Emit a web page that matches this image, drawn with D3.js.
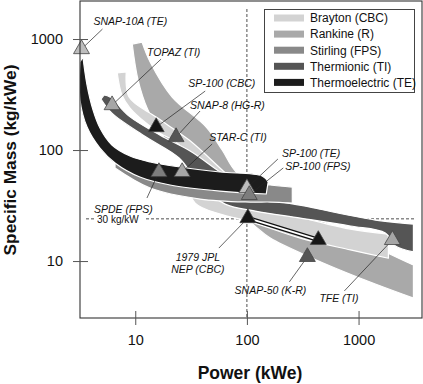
<!DOCTYPE html>
<html>
<head>
<meta charset="utf-8">
<script src="https://cdn.jsdelivr.net/npm/d3@7"></script>
<style>
  html, body { margin: 0; padding: 0; background: #fff; }
  svg { display: block; font-family: "Liberation Sans", Arial, Helvetica, sans-serif; }
</style>
</head>
<body>
<svg id="chart" width="423" height="384"></svg>
<script>
// Bandas de massa específica por tipo de conversão: [potência kWe, kg/kWe]
const rankineUpper = [[11.5, 939], [13.6, 621], [21.4, 300], [43.2, 161], [60, 100], [80.2, 63.4], [179, 35.5], [370, 26], [1038, 15.5], [3100, 9.2]];
const rankineLower = [[9.4, 901], [10.6, 427], [13, 229], [18.5, 125], [28, 81.3], [52, 43.6], [87, 27.6], [121, 20.2], [162, 16.1], [385, 10.6], [1038, 7.0], [3100, 4.64]];

const braytonUpper = [[8.3, 505], [8.8, 300], [15.4, 198], [30.4, 123], [60, 66.1], [131, 32], [301, 24.9], [845, 19.4], [1850, 17.5]];
const braytonLower = [[6.9, 494], [7.6, 313], [8.98, 239], [12.5, 175], [16.7, 142], [25.2, 108.6], [28.5, 53.7], [34.4, 33.3], [57.6, 26.5], [103, 22.9], [301, 16.1], [845, 12.6], [1850, 10.6]];

const thermionicUpper = [[5.25, 313], [5.94, 300], [8.8, 202], [16.7, 136], [31, 98], [57.6, 63.4], [119, 39.4], [370, 30.6], [1413, 23.4], [3100, 21.5]];
const thermionicLower = [[4.93, 288], [6.18, 215], [12.5, 131], [24.7, 84.7], [38.1, 48.4], [63.9, 32.6], [119, 28.2], [301, 24.4], [845, 20.7], [1738, 17.9], [2138, 13.7], [3100, 12.1]];

const stirlingUpper = [[6.59, 81.3], [13.6, 66.1], [38.1, 58.3], [107, 51.5], [162, 48.4], [255, 46.4]];
const stirlingLower = [[6.59, 68.9], [13.6, 45.5], [38.1, 36.2], [107, 34], [162, 34], [255, 33.3]];

const teUpper = [[3.4, 689], [3.7, 385], [4.19, 229], [4.83, 158], [6.18, 111], [8.98, 88.3], [13.6, 78], [25.2, 70.3], [57.6, 63.4], [137, 58.3], [155, 51.5]];
const teLower = [[3.2, 621], [3.2, 282], [3.7, 161], [4.83, 104], [6.59, 76.4], [11, 57.1], [20.5, 48.4], [57.6, 42.7], [149, 40.2]];

// Sistemas (triângulos)
const sysNames = ['SNAP-10A (TE)', 'TOPAZ (TI)', 'SP-100 (CBC)', 'SNAP-8 (HG-R)', 'STAR-C (TI)', 'SPDE (FPS)',
  'SP-100 (TE)', 'SP-100 (FPS)', '1979 JPL\nNEP (CBC)', '', 'SNAP-50 (K-R)', 'TFE (TI)'];
const sysPower = [3.3, 6.2, 15.4, 23.2, 26.3, 16.3, 100, 105, 102, 436, 348, 2009];
const sysMass = [812, 254, 161, 131, 63.4, 63.4, 45.5, 39.4, 24.4, 15.5, 10.9, 15.5];
const sysType = ['TE', 'TI', 'CBC', 'R', 'TI', 'FPS', 'TE', 'FPS', 'CBC', 'CBC', 'R', 'TI'];

// Legenda
const typeKeys = ['CBC', 'R', 'FPS', 'TI', 'TE'];
const typeNames = ['Brayton (CBC)', 'Rankine (R)', 'Stirling (FPS)', 'Thermionic (TI)', 'Thermoelectric (TE)'];

const xTicks = [10, 100, 1000];
const yTicks = [10, 100, 1000];
const refPower = 100;
const refMass = 24;
const refLabel = '30 kg/kW';

// estilos
const bandColor = { CBC: '#d3d3d3', R: '#a9a9a9', FPS: '#898989', TI: '#555555', TE: '#1c1c1c' };
const triColor = { CBC: '#161616', R: '#555555', FPS: '#7d7d7d', TI: '#a6a6a6', TE: '#bdbdbd' };
// deslocamentos dos rótulos (px): texto e ponta da linha guia
const labelPos = [
  { tx: 12, ty: -24, lx: 21, ly: -20, a: 'start' },
  { tx: 35, ty: -49, lx: 49, ly: -46, a: 'start' },
  { tx: 32, ty: -40, lx: 49, ly: -36, a: 'start' },
  { tx: 14, ty: -28, lx: 24, ly: -26, a: 'start' },
  { tx: 27, ty: -31, lx: 30, ly: -28, a: 'start' },
  { tx: -65, ty: 41, lx: -12, ly: 26, a: 'start' },
  { tx: 35, ty: -31, lx: 31, ly: -29, a: 'start' },
  { tx: 36, ty: -25, lx: 34, ly: -27, a: 'start' },
  { tx: -50, ty: 43, lx: -29, ly: 30, a: 'middle' },
  null,
  { tx: -1, ty: 37, lx: -18, ly: 25, a: 'end' },
  { tx: -73, ty: 62, lx: -48, ly: 51, a: 'start' }
];

const L = 80, R = 422, T = 1, B = 318;
const x = d3.scaleLog().domain([3.2, 3700]).range([L, R]);
const y = d3.scaleLog().domain([3.07, 2200]).range([B, T]);

const svg = d3.select('#chart');

svg.append('defs').append('clipPath').attr('id', 'plot')
  .append('rect').attr('x', L).attr('y', T).attr('width', R - L).attr('height', B - T);

// linhas de referência tracejadas
svg.append('line')
  .attr('x1', x(refPower)).attr('x2', x(refPower)).attr('y1', 9).attr('y2', B)
  .attr('stroke', '#222').attr('stroke-width', 0.8).attr('stroke-dasharray', '3,2');
svg.append('line')
  .attr('x1', 86).attr('x2', 415).attr('y1', y(refMass)).attr('y2', y(refMass))
  .attr('stroke', '#222').attr('stroke-width', 0.8).attr('stroke-dasharray', '3,2');
svg.append('rect').attr('x', 95).attr('y', y(refMass) - 6).attr('width', 49).attr('height', 12).attr('fill', '#fff');
svg.append('text').attr('x', 97).attr('y', y(refMass) + 4)
  .attr('font-size', 10).attr('fill', '#111').text(refLabel);

// bandas
const line = d3.line().x(d => x(d[0])).y(d => y(d[1])).curve(d3.curveCatmullRom.alpha(0.5));
function bandPath(up, lo) {
  const a = line(up);
  const b = line(lo.slice().reverse());
  return a + 'L' + b.slice(1) + 'Z';
}
const bands = [
  ['R', rankineUpper, rankineLower],
  ['CBC', braytonUpper, braytonLower],
  ['TI', thermionicUpper, thermionicLower],
  ['FPS', stirlingUpper, stirlingLower],
  ['TE', teUpper, teLower]
];
svg.append('g').attr('clip-path', 'url(#plot)')
  .selectAll('path')
  .data(bands)
  .enter()
  .append('path')
  .attr('d', d => bandPath(d[1], d[2]))
  .attr('fill', d => bandColor[d[0]])
  .attr('stroke', '#fff')
  .attr('stroke-width', 1.2)
  .attr('stroke-linejoin', 'round');

// sistemas
const sys = sysNames.map((n, i) => ({
  name: n, type: sysType[i], px: x(sysPower[i]), py: y(sysMass[i]), pos: labelPos[i]
}));

// linhas guia
svg.append('g').selectAll('line')
  .data(sys.filter(d => d.pos))
  .enter()
  .append('line')
  .attr('x1', d => d.px).attr('y1', d => d.py)
  .attr('x2', d => d.px + d.pos.lx).attr('y2', d => d.py + d.pos.ly)
  .attr('stroke', '#222').attr('stroke-width', 0.7);

// linha dupla do JPL NEP
const j0 = sys[8], j1 = sys[9];
svg.append('line').attr('x1', j0.px).attr('y1', j0.py).attr('x2', j1.px).attr('y2', j1.py)
  .attr('stroke', '#111').attr('stroke-width', 4.4);
svg.append('line').attr('x1', j0.px).attr('y1', j0.py).attr('x2', j1.px).attr('y2', j1.py)
  .attr('stroke', '#fff').attr('stroke-width', 1.8);

// triângulos
const tri = d3.symbol(d3.symbolTriangle, 110);
svg.append('g').selectAll('path')
  .data(sys)
  .enter()
  .append('path')
  .attr('d', tri)
  .attr('transform', d => `translate(${d.px},${d.py})`)
  .attr('fill', d => triColor[d.type])
  .attr('stroke', '#444')
  .attr('stroke-width', 0.8);

// rótulos
const lab = svg.append('g')
  .attr('font-size', 10.5).attr('font-style', 'italic').attr('fill', '#111');
sys.filter(d => d.pos && d.name).forEach(d => {
  const t = lab.append('text')
    .attr('x', d.px + d.pos.tx).attr('y', d.py + d.pos.ty)
    .attr('text-anchor', d.pos.a);
  d.name.split('\n').forEach((s, k) => {
    t.append('tspan').attr('x', d.px + d.pos.tx).attr('dy', k ? 11.5 : 0).text(s);
  });
});

// legenda
const lg = svg.append('g');
lg.append('rect').attr('x', 264.5).attr('y', 9.5).attr('width', 150).attr('height', 83)
  .attr('fill', '#fff').attr('stroke', '#444').attr('stroke-width', 1);
typeKeys.forEach((k, i) => {
  const cy = 18 + i * 16.1;
  lg.append('rect').attr('x', 274).attr('y', cy - 3.5).attr('width', 30).attr('height', 7)
    .attr('fill', bandColor[k]);
  lg.append('text').attr('x', 310).attr('y', cy + 4.3)
    .attr('font-size', 12).attr('fill', '#111').text(typeNames[i]);
});

// moldura e eixos
svg.append('rect').attr('x', L).attr('y', T).attr('width', R - L).attr('height', B - T)
  .attr('fill', 'none').attr('stroke', '#333').attr('stroke-width', 1.1);

function styleAxis(g) {
  g.select('.domain').remove();
  g.selectAll('line').attr('stroke', '#555').attr('stroke-width', 1);
  g.selectAll('text').attr('font-size', 14.5).attr('fill', '#111')
    .attr('font-family', '"Liberation Sans", Arial, Helvetica, sans-serif');
}
svg.append('g').attr('transform', `translate(0,${B})`)
  .call(d3.axisBottom(x).tickValues(xTicks).tickFormat(d3.format('d')).tickSize(7).tickPadding(10))
  .call(styleAxis);
svg.append('g').attr('transform', `translate(0,${B})`)
  .call(d3.axisTop(x).tickValues(xTicks).tickFormat('').tickSize(7))
  .call(styleAxis);
svg.append('g').attr('transform', `translate(${L},0)`)
  .call(d3.axisLeft(y).tickValues(yTicks).tickFormat(d3.format('d')).tickSize(7).tickPadding(10))
  .call(styleAxis);
svg.append('g').attr('transform', `translate(${L},0)`)
  .call(d3.axisRight(y).tickValues(yTicks).tickFormat('').tickSize(8))
  .call(styleAxis);

svg.append('text')
  .attr('transform', 'translate(16,160) rotate(-90)')
  .attr('text-anchor', 'middle').attr('font-size', 17.3).attr('font-weight', 'bold').attr('fill', '#111')
  .text('Specific Mass (kg/kWe)');
svg.append('text')
  .attr('x', 250).attr('y', 379)
  .attr('text-anchor', 'middle').attr('font-size', 17.5).attr('font-weight', 'bold').attr('fill', '#111')
  .text('Power (kWe)');
</script>
</body>
</html>
